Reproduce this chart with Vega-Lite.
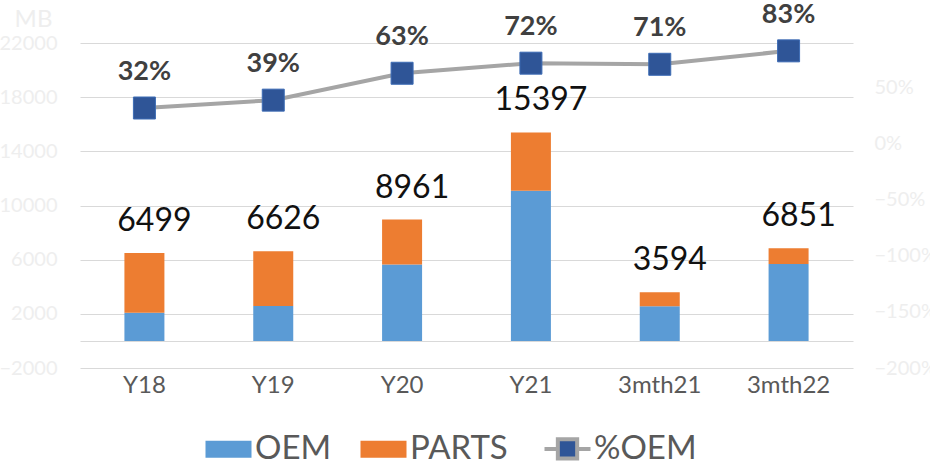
{
  "$schema": "https://vega.github.io/schema/vega-lite/v6.json",
  "autosize": {"type": "none"},
  "padding": {"left": 80, "top": 43, "right": 77, "bottom": 96},
  "width": 773,
  "height": 325,
  "config": {
    "font": "Lato",
    "view": {"stroke": null},
    "legend": {
      "symbolSize": 2116,
      "labelFontSize": 33,
      "labelColor": "#595959",
      "labelFont": "Lato",
      "labelOffset": 10,
      "columnPadding": 28,
      "symbolStrokeWidth": 0
    }
  },
  "datasets": {
    "bars": [
      {"cat": "Y18", "part": "OEM", "value": 2080},
      {"cat": "Y18", "part": "PARTS", "value": 4419},
      {"cat": "Y19", "part": "OEM", "value": 2584},
      {"cat": "Y19", "part": "PARTS", "value": 4042},
      {"cat": "Y20", "part": "OEM", "value": 5645},
      {"cat": "Y20", "part": "PARTS", "value": 3316},
      {"cat": "Y21", "part": "OEM", "value": 11086},
      {"cat": "Y21", "part": "PARTS", "value": 4311},
      {"cat": "3mth21", "part": "OEM", "value": 2552},
      {"cat": "3mth21", "part": "PARTS", "value": 1042},
      {"cat": "3mth22", "part": "OEM", "value": 5686},
      {"cat": "3mth22", "part": "PARTS", "value": 1165}
    ],
    "summary": [
      {"cat": "Y18", "total": 6499, "pct": 0.32},
      {"cat": "Y19", "total": 6626, "pct": 0.39},
      {"cat": "Y20", "total": 8961, "pct": 0.63},
      {"cat": "Y21", "total": 15397, "pct": 0.72},
      {"cat": "3mth21", "total": 3594, "pct": 0.71},
      {"cat": "3mth22", "total": 6851, "pct": 0.83}
    ]
  },
  "encoding": {
    "x": {
      "field": "cat",
      "type": "nominal",
      "sort": ["Y18", "Y19", "Y20", "Y21", "3mth21", "3mth22"],
      "scale": {"paddingInner": 0, "paddingOuter": 0},
      "axis": {
        "title": null,
        "domain": false,
        "ticks": false,
        "labelAngle": 0,
        "labelFontSize": 24,
        "labelColor": "#595959",
        "labelPadding": 5,
        "grid": false
      }
    }
  },
  "layer": [
    {
      "layer": [
        {
          "data": {"name": "bars"},
          "mark": {"type": "bar", "size": 40},
          "encoding": {
            "y": {
              "field": "value",
              "type": "quantitative",
              "aggregate": "sum",
              "stack": "zero",
              "scale": {"domain": [-2000, 22000], "nice": false, "zero": false},
              "axis": {
                "title": "MB",
                "titleAngle": 0,
                "titleX": -47,
                "titleY": -24,
                "titleAlign": "center",
                "titleBaseline": "middle",
                "titleFontSize": 24,
                "titleFontWeight": "normal",
                "titleColor": "#eeeeee",
                "values": [-2000, 0, 2000, 6000, 10000, 14000, 18000, 22000],
                "labelExpr": "datum.value == 0 ? '' : datum.label",
                "format": "d",
                "labelFontSize": 20,
                "labelColor": "#eeeeee",
                "labelPadding": 23,
                "domain": false,
                "ticks": false,
                "grid": true,
                "gridColor": "#d9d9d9",
                "gridWidth": 1
              }
            },
            "order": {"field": "part", "sort": "ascending"},
            "color": {
              "field": "part",
              "type": "nominal",
              "scale": {
                "domain": ["OEM", "PARTS", "%OEM"],
                "range": ["#5b9bd5", "#ed7d31", "#2f5597"]
              },
              "legend": {
                "title": null,
                "orient": "none",
                "direction": "horizontal",
                "legendX": 132,
                "legendY": 389,
                "encode": {
                  "symbols": {
                    "update": {
                      "shape": {"signal": "datum.value === '%OEM' ? 'M-1,0H-0.42M0.42,0H1M-0.42,-0.42H0.42V0.42H-0.42Z' : 'M-1,-0.37H1V0.37H-1Z'"},
                      "stroke": {"signal": "datum.value === '%OEM' ? '#a5a5a5' : 'transparent'"},
                      "strokeWidth": {"signal": "datum.value === '%OEM' ? 4 : 0"}
                    }
                  }
                }
              }
            }
          }
        },
        {
          "data": {"name": "summary"},
          "mark": {"type": "text", "fontSize": 32, "color": "#111111", "dx": 10, "dy": -22, "baseline": "alphabetic"},
          "encoding": {
            "y": {"field": "total", "type": "quantitative"},
            "text": {"field": "total", "type": "quantitative", "format": "d"}
          }
        }
      ]
    },
    {
      "data": {"name": "summary"},
      "encoding": {
        "y": {
          "field": "pct",
          "type": "quantitative",
          "scale": {"domain": [-2, 0.9], "nice": false, "zero": false},
          "axis": {
            "orient": "right",
            "title": null,
            "values": [-2, -1.5, -1, -0.5, 0, 0.5],
            "format": ".0%",
            "labelFontSize": 20,
            "labelColor": "#eeeeee",
            "labelPadding": 21,
            "domain": false,
            "ticks": false,
            "grid": false
          }
        }
      },
      "layer": [
        {"mark": {"type": "line", "color": "#a5a5a5", "strokeWidth": 4}},
        {
          "mark": {"type": "point", "shape": "square", "filled": true, "size": 484, "opacity": 1, "stroke": "#3d6cb5", "strokeWidth": 1},
          "encoding": {"color": {"datum": "%OEM"}}
        },
        {
          "mark": {"type": "text", "fontSize": 27, "fontWeight": "bold", "color": "#404040", "dy": -28, "baseline": "alphabetic"},
          "encoding": {"text": {"field": "pct", "type": "quantitative", "format": ".0%"}}
        }
      ]
    }
  ],
  "resolve": {"scale": {"y": "independent"}}
}
